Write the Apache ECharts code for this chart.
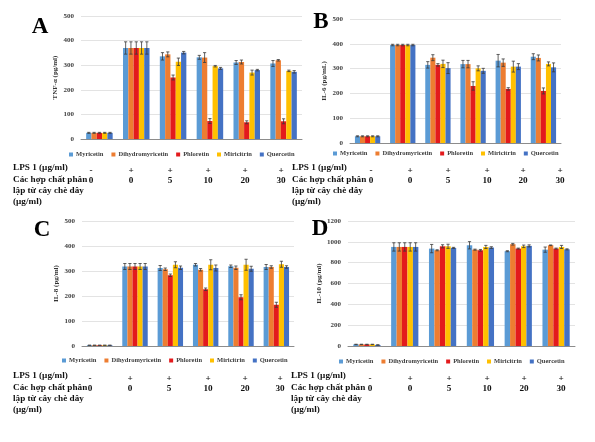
<!DOCTYPE html>
<html><head><meta charset="utf-8">
<script src="https://cdn.jsdelivr.net/npm/echarts@6/dist/echarts.min.js"></script>
<style>html,body{margin:0;padding:0;background:#fff}#c{width:595px;height:442px}</style>
</head><body><div id="c"></div>
<script>
// ---------- data ----------
const seriesNames = ['Myricetin', 'Dihydromyricetin', 'Phloretin', 'Miricitrin', 'Quercetin'];
const lpsRow = ['-', '+', '+', '+', '+', '+'];
const doseRow = ['0', '0', '5', '10', '20', '30'];
const categories = lpsRow.map((l, i) => l + ' ' + doseRow[i]);
const rowLabels = ['LPS 1 (µg/ml)', 'Các hợp chất phân', 'lập từ cây chè dây', '(µg/ml)'];

// A: TNF-α
const tnfMyr = [25, 370, 336, 332, 311, 307];
const tnfDih = [25, 370, 344, 331, 313, 320];
const tnfPhl = [25, 370, 250, 73, 68, 72];
const tnfMir = [25, 370, 314, 296, 270, 277];
const tnfQue = [25, 370, 351, 287, 280, 273];
const tnfMyrErr = [2, 25, 15, 8, 8, 12];
const tnfDihErr = [2, 25, 10, 20, 8, 3];
const tnfPhlErr = [2, 25, 10, 10, 6, 10];
const tnfMirErr = [2, 25, 15, 3, 10, 3];
const tnfQueErr = [2, 25, 5, 4, 3, 5];

// B: IL-6
const il6Myr = [27, 395, 315, 318, 332, 348];
const il6Dih = [27, 395, 344, 318, 324, 343];
const il6Phl = [27, 395, 315, 230, 218, 210];
const il6Mir = [27, 395, 319, 301, 308, 319];
const il6Que = [27, 395, 302, 291, 308, 305];
const il6MyrErr = [2, 3, 13, 15, 25, 12];
const il6DihErr = [2, 3, 12, 15, 15, 12];
const il6PhlErr = [2, 3, 5, 17, 5, 12];
const il6MirErr = [2, 3, 15, 10, 22, 8];
const il6QueErr = [2, 3, 22, 10, 12, 18];

// C: IL-8
const il8Myr = [3, 318, 312, 325, 319, 316];
const il8Dih = [3, 318, 307, 305, 313, 316];
const il8Phl = [3, 318, 283, 227, 195, 165];
const il8Mir = [3, 318, 325, 325, 325, 327];
const il8Que = [3, 318, 313, 312, 309, 316];
const il8MyrErr = [0, 12, 10, 5, 5, 10];
const il8DihErr = [0, 12, 5, 5, 7, 5];
const il8PhlErr = [0, 12, 5, 5, 10, 10];
const il8MirErr = [0, 12, 12, 20, 22, 12];
const il8QueErr = [0, 12, 7, 12, 10, 5];

// D: IL-10
const il10Myr = [15, 951, 935, 967, 910, 925];
const il10Dih = [15, 951, 919, 925, 977, 967];
const il10Phl = [15, 951, 957, 919, 935, 935];
const il10Mir = [15, 951, 957, 951, 957, 951];
const il10Que = [10, 951, 942, 945, 961, 928];
const il10MyrErr = [2, 40, 40, 35, 5, 25];
const il10DihErr = [2, 40, 5, 5, 8, 3];
const il10PhlErr = [2, 40, 15, 8, 5, 5];
const il10MirErr = [2, 40, 20, 15, 12, 15];
const il10QueErr = [2, 40, 5, 8, 10, 5];

const panels = [
  { letter: 'A', yName: 'TNF-α (pg/ml)', max: 500, interval: 100,
    values: [tnfMyr, tnfDih, tnfPhl, tnfMir, tnfQue],
    errors: [tnfMyrErr, tnfDihErr, tnfPhlErr, tnfMirErr, tnfQueErr] },
  { letter: 'B', yName: 'IL-6 (pg/mL)', max: 500, interval: 100,
    values: [il6Myr, il6Dih, il6Phl, il6Mir, il6Que],
    errors: [il6MyrErr, il6DihErr, il6PhlErr, il6MirErr, il6QueErr] },
  { letter: 'C', yName: 'IL-8 (pg/ml)', max: 500, interval: 100,
    values: [il8Myr, il8Dih, il8Phl, il8Mir, il8Que],
    errors: [il8MyrErr, il8DihErr, il8PhlErr, il8MirErr, il8QueErr] },
  { letter: 'D', yName: 'IL-10 (pg/ml)', max: 1200, interval: 200,
    values: [il10Myr, il10Dih, il10Phl, il10Mir, il10Que],
    errors: [il10MyrErr, il10DihErr, il10PhlErr, il10MirErr, il10QueErr] }
];

// ---------- layout & style ----------
const colors = ['#5B9BD5', '#ED7D31', '#E31A1C', '#FFC000', '#4472C4'];
const FONT = "'Liberation Serif', 'Times New Roman', serif";
const GAP = 0.28;
const layout = [
  { grid: { left: 81, top: 16, width: 221, height: 123 }, legend: { left: 69, top: 151 }, letter: [40, 27],
    table: { x: 13, y: 168, cols: [91, 131, 170, 208, 245, 281] } },
  { grid: { left: 350, top: 19, width: 211, height: 124 }, legend: { left: 333, top: 150 }, letter: [321, 22],
    table: { x: 292, y: 168, cols: [371, 410, 448, 487, 523, 560] } },
  { grid: { left: 82, top: 221, width: 212, height: 125 }, legend: { left: 62, top: 357 }, letter: [42, 230],
    table: { x: 13, y: 376, cols: [90, 130, 169, 208, 245, 280] } },
  { grid: { left: 348, top: 221, width: 227, height: 125 }, legend: { left: 339, top: 358 }, letter: [320, 229],
    table: { x: 291, y: 376, cols: [370, 410, 449, 487, 524, 561] } }
];

function errRender(si, n) {
  return function (params, api) {
    const ci = api.value(0), v = api.value(1), e = api.value(2);
    const c = api.coord([ci, v]);
    const band = api.size([1, 0])[0];
    const usable = band * (1 - GAP);
    const bw = usable / n;
    const x = c[0] - usable / 2 + bw * (si + 0.5);
    const top = api.coord([ci, v + e])[1];
    const bot = api.coord([ci, Math.max(0, v - e)])[1];
    const cap = 1.6;
    const st = { stroke: '#3a3a3a', lineWidth: 0.8 };
    return { type: 'group', children: [
      { type: 'line', shape: { x1: x, y1: top, x2: x, y2: bot }, style: st },
      { type: 'line', shape: { x1: x - cap, y1: top, x2: x + cap, y2: top }, style: st },
      { type: 'line', shape: { x1: x - cap, y1: bot, x2: x + cap, y2: bot }, style: st }
    ] };
  };
}

const grids = [], xAxes = [], yAxes = [], legends = [], series = [], graphics = [];
panels.forEach((p, k) => {
  const L = layout[k];
  grids.push(Object.assign({ containLabel: false }, L.grid));
  xAxes.push({ type: 'category', gridIndex: k, data: categories,
    axisLine: { lineStyle: { color: '#8c8c8c', width: 1 } },
    axisTick: { show: false }, axisLabel: { show: false } });
  yAxes.push({ type: 'value', gridIndex: k, min: 0, max: p.max, interval: p.interval,
    name: p.yName, nameLocation: 'middle', nameGap: 22, nameRotate: 90,
    nameTextStyle: { fontFamily: FONT, fontWeight: 'bold', fontSize: 7, color: '#333' },
    axisLine: { show: false }, axisTick: { show: false },
    axisLabel: { fontFamily: FONT, fontWeight: 'bold', fontSize: 7, color: '#404040', margin: 7,
      formatter: v => String(v) },
    splitLine: { lineStyle: { color: '#e3e3e3', width: 1 } } });
  legends.push({ data: seriesNames, left: L.legend.left, top: L.legend.top,
    icon: 'rect', itemWidth: 4, itemHeight: 4, itemGap: 8, padding: 0,
    textStyle: { fontFamily: FONT, fontWeight: 'bold', fontSize: 6.5, color: '#404040', padding: [0, 0, 0, -2] } });
  p.values.forEach((vals, si) => {
    series.push({ type: 'bar', name: seriesNames[si], xAxisIndex: k, yAxisIndex: k,
      data: vals, barGap: '0%', barCategoryGap: (GAP * 100) + '%',
      itemStyle: { color: colors[si] }, emphasis: { disabled: true }, animation: false });
  });
  p.values.forEach((vals, si) => {
    series.push({ type: 'custom', xAxisIndex: k, yAxisIndex: k, z: 5,
      renderItem: errRender(si, p.values.length),
      data: vals.map((v, i) => [i, v, p.errors[si][i]]), animation: false, silent: true });
  });
  graphics.push({ type: 'text', x: L.letter[0], y: L.letter[1],
    style: { text: p.letter, font: "bold 23px " + FONT, fill: '#000', align: 'center', verticalAlign: 'middle' } });
  const T = L.table;
  rowLabels.forEach((t, r) => {
    graphics.push({ type: 'text', x: T.x, y: T.y + r * 11.2,
      style: { text: t, font: "bold 9.2px " + FONT, fill: '#111', align: 'left', verticalAlign: 'middle' } });
  });
  T.cols.forEach((cx, i) => {
    graphics.push({ type: 'text', x: cx, y: T.y + 3,
      style: { text: lpsRow[i], font: "bold 9.2px " + FONT, fill: '#111', align: 'center', verticalAlign: 'middle' } });
    graphics.push({ type: 'text', x: cx, y: T.y + 13,
      style: { text: doseRow[i], font: "bold 9.2px " + FONT, fill: '#111', align: 'center', verticalAlign: 'middle' } });
  });
});

const chart = echarts.init(document.getElementById('c'), null, { renderer: 'canvas' });
chart.setOption({
  backgroundColor: '#fff',
  animation: false,
  grid: grids, xAxis: xAxes, yAxis: yAxes, legend: legends, series: series,
  graphic: graphics
});
</script>
</body></html>
